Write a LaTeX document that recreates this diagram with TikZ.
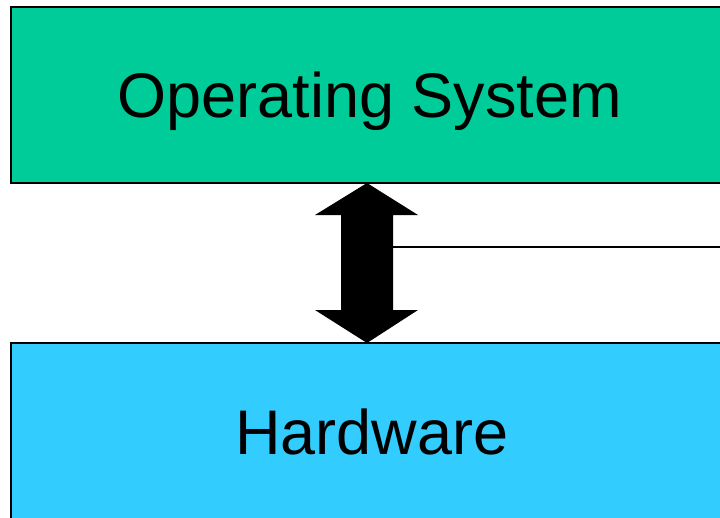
\documentclass[tikz,border=0pt]{standalone}
\usepackage{fontspec}
\setmainfont{Liberation Sans}
\definecolor{osgreen}{RGB}{0,204,153}
\definecolor{hwblue}{RGB}{51,204,255}
\tikzset{layer/.style={draw,line width=1.2pt,rectangle,text height=45.5pt,text depth=0pt,font=\fontsize{63}{70}\selectfont}}
\begin{document}
\begin{tikzpicture}[x=1pt,y=-1pt]
        \useasboundingbox (0,0) rectangle (720,517);
        \clip (0,0) rectangle (720,517);
        %% Layers
        \node[layer,fill=osgreen,minimum width=718pt,minimum height=176pt] (os) at (370,95) {Operating System};
        \node[layer,fill=hwblue,minimum width=722pt,minimum height=178pt] (hw) at (372,432) {Hardware};
        %% Double arrow
        \coordinate (up) at (367,183);
        \coordinate (down) at (367,343);
        \fill (up) -- ++(51,32) -- ++(-25,0) -- ++(0,95) -- ++(25,0) -- (down) -- ++(-52,-33) -- ++(26,0) -- ++(0,-95) -- ++(-26,0) -- cycle;
        %% Side line
        \coordinate (side) at (393,247);
        \draw[line width=1.2pt] (side) -- ++(340,0);
    \end{tikzpicture}
\end{document}
